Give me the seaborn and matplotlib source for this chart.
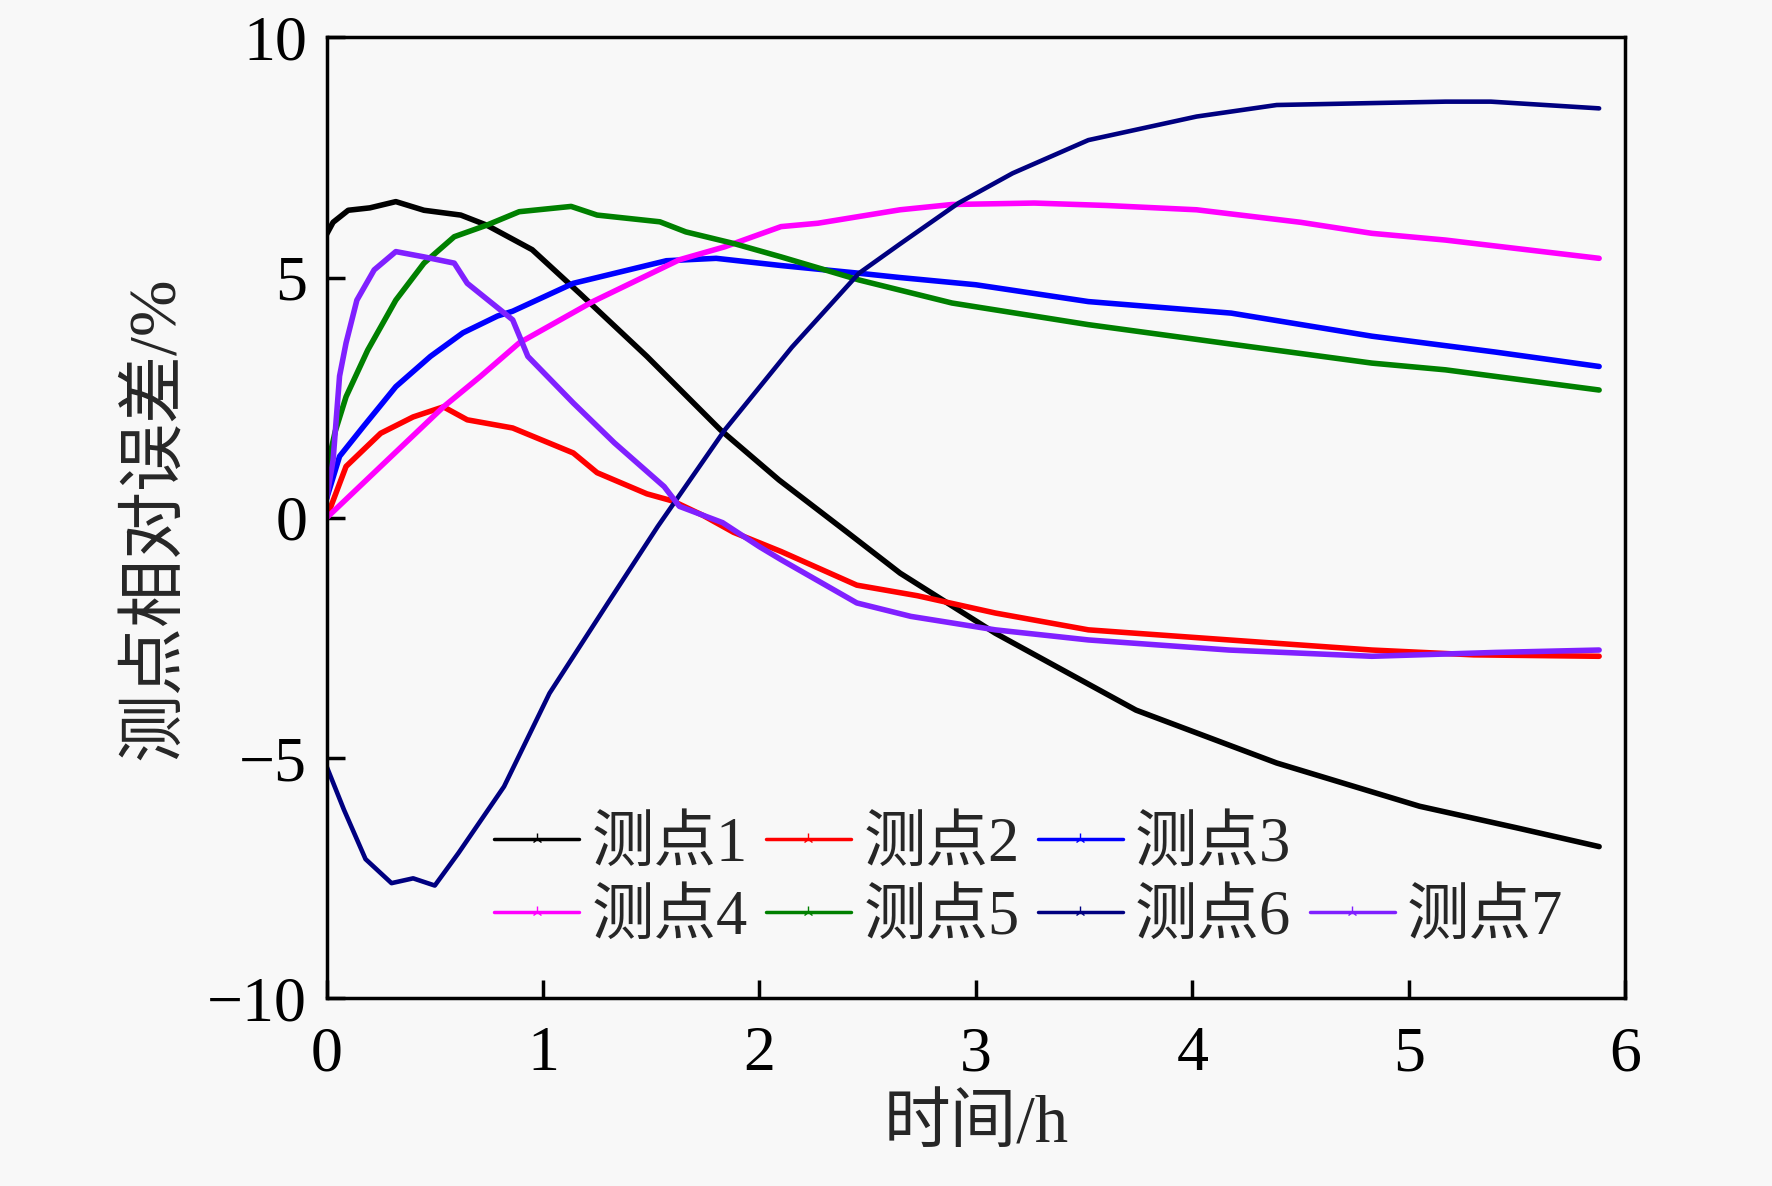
import numpy as np
import pandas as pd
import seaborn as sns
import matplotlib
matplotlib.use("Agg")
import matplotlib.pyplot as plt
from matplotlib.lines import Line2D

# ---------------- data ----------------
series_names = ["测点1", "测点2", "测点3", "测点4", "测点5", "测点6", "测点7"]

t1 = [0, 0.03, 0.1, 0.2, 0.32, 0.45, 0.62, 0.74, 0.95, 1.17, 1.48, 1.82, 2.09, 2.4, 2.65, 3.09, 3.74, 4.39, 5.05, 5.5, 5.88]
v1 = [5.9, 6.15, 6.4, 6.45, 6.58, 6.4, 6.3, 6.09, 5.58, 4.67, 3.36, 1.83, 0.79, -0.28, -1.15, -2.4, -4.0, -5.1, -6.0, -6.45, -6.84]

t2 = [0, 0.09, 0.25, 0.4, 0.54, 0.65, 0.86, 1.14, 1.25, 1.48, 1.6, 1.74, 1.88, 2.1, 2.45, 2.73, 3.09, 3.52, 4.17, 4.83, 5.3, 5.88]
v2 = [0.0, 1.07, 1.76, 2.1, 2.31, 2.04, 1.87, 1.35, 0.94, 0.5, 0.35, 0.05, -0.3, -0.7, -1.4, -1.62, -1.98, -2.33, -2.54, -2.75, -2.85, -2.88]

t3 = [0, 0.06, 0.17, 0.32, 0.48, 0.63, 0.79, 0.86, 1.14, 1.57, 1.8, 2.1, 2.46, 2.65, 3.0, 3.52, 4.18, 4.83, 5.4, 5.88]
v3 = [0.4, 1.28, 1.9, 2.73, 3.36, 3.85, 4.2, 4.3, 4.88, 5.35, 5.4, 5.25, 5.09, 5.0, 4.85, 4.5, 4.26, 3.78, 3.45, 3.15]

t4 = [0, 0.25, 0.54, 0.71, 0.89, 1.23, 1.63, 1.84, 2.1, 2.27, 2.65, 2.89, 3.27, 3.6, 4.02, 4.5, 4.83, 5.17, 5.88]
v4 = [0.0, 1.07, 2.31, 2.94, 3.64, 4.5, 5.37, 5.64, 6.06, 6.13, 6.41, 6.52, 6.55, 6.5, 6.41, 6.15, 5.92, 5.78, 5.4]

t5 = [0, 0.04, 0.09, 0.19, 0.32, 0.45, 0.59, 0.74, 0.89, 1.13, 1.25, 1.54, 1.66, 1.88, 2.1, 2.46, 2.89, 3.52, 4.27, 4.83, 5.17, 5.88]
v5 = [1.0, 1.8, 2.52, 3.49, 4.53, 5.3, 5.85, 6.09, 6.37, 6.48, 6.3, 6.16, 5.95, 5.71, 5.43, 4.95, 4.47, 4.02, 3.56, 3.22, 3.08, 2.66]

t6 = [0, 0.08, 0.18, 0.3, 0.4, 0.5, 0.61, 0.82, 1.03, 1.3, 1.53, 1.84, 2.15, 2.46, 2.65, 2.92, 3.17, 3.52, 4.02, 4.39, 4.83, 5.17, 5.38, 5.88]
v6 = [-5.17, -6.07, -7.1, -7.6, -7.5, -7.65, -6.97, -5.59, -3.65, -1.77, -0.18, 1.83, 3.55, 5.09, 5.7, 6.55, 7.17, 7.86, 8.35, 8.59, 8.63, 8.66, 8.66, 8.52]

t7 = [0, 0.03, 0.06, 0.09, 0.14, 0.22, 0.32, 0.45, 0.59, 0.65, 0.86, 0.93, 1.14, 1.33, 1.56, 1.63, 1.83, 2.0, 2.1, 2.45, 2.7, 3.09, 3.52, 4.17, 4.83, 5.4, 5.88]
v7 = [0.4, 1.2, 2.95, 3.64, 4.53, 5.16, 5.54, 5.43, 5.3, 4.88, 4.12, 3.36, 2.39, 1.56, 0.65, 0.24, -0.1, -0.6, -0.87, -1.77, -2.05, -2.33, -2.54, -2.75, -2.88, -2.8, -2.75]

colors = ["#000000", "#ff0000", "#0000ff", "#ff00ff", "#008000", "#000080", "#8020ff"]

x_ticks = [0, 1, 2, 3, 4, 5, 6]
y_ticks = [-10, -5, 0, 5, 10]
x_label = "时间/h"
y_label = "测点相对误差/%"

# ---------------- build table ----------------
ts = [t1, t2, t3, t4, t5, t6, t7]
vs = [v1, v2, v3, v4, v5, v6, v7]
frames = []
for name, t, v in zip(series_names, ts, vs):
    frames.append(pd.DataFrame({"t": t, "v": v, "series": name}))
df = pd.concat(frames, ignore_index=True)

# ---------------- style ----------------
sns.set_theme(style="ticks")
fam = ["Liberation Serif", "Noto Sans CJK SC"]
plt.rcParams["font.family"] = fam
plt.rcParams["axes.unicode_minus"] = True
bg = "#f8f8f8"

fig = plt.figure(figsize=(17.72, 11.86), dpi=100, facecolor=bg)
ax = fig.add_axes([0.1843, 0.1581, 0.7328, 0.8105])
ax.set_facecolor(bg)

palette = dict(zip(series_names, colors))
sns.lineplot(data=df, x="t", y="v", hue="series", palette=palette,
             hue_order=series_names, estimator=None, sort=False,
             linewidth=4.0, ax=ax, legend=False)
# 测点6 drawn a bit thinner, as in the reference
ax.lines[5].set_linewidth(3.3)

ax.set_xlim(0, 6)
ax.set_ylim(-10, 10)
ax.set_xticks(x_ticks)
ax.set_yticks(y_ticks)
ax.set_xticklabels([str(x) for x in x_ticks])
ax.set_yticklabels([str(y).replace("-", "\u2212") for y in y_ticks])

for s in ax.spines.values():
    s.set_visible(True)
    s.set_linewidth(2.5)
    s.set_color("black")
ax.tick_params(direction="in", length=13, width=2.5, labelsize=46,
               colors="black", top=False, right=False)
ax.tick_params(axis="x", pad=20)
ax.tick_params(axis="y", pad=14)
for lab in ax.get_xticklabels() + ax.get_yticklabels():
    lab.set_family(fam)

ax.set_xlabel(x_label, fontsize=48, family=fam, labelpad=8)
ax.set_ylabel(y_label, fontsize=49, family=fam, labelpad=14)

# legend: row1 = 1,2,3 ; row2 = 4,5,6,7
handles = [Line2D([], [], color=c, lw=2.5, marker="2", markersize=8) for c in colors]
blank = Line2D([], [], color="none")
order_h = [handles[0], handles[3], handles[1], handles[4], handles[2], handles[5], blank, handles[6]]
order_l = [series_names[0], series_names[3], series_names[1], series_names[4],
           series_names[2], series_names[5], "", series_names[6]]
leg = ax.legend(order_h, order_l, ncol=4, loc="upper left",
                bbox_to_anchor=(0.11, 0.215), borderaxespad=0, frameon=False,
                prop={"family": fam, "size": 45}, handlelength=1.35,
                handletextpad=0.2, columnspacing=0.3, labelspacing=0.24)

fig.savefig("out.png", dpi=100, facecolor=bg)
